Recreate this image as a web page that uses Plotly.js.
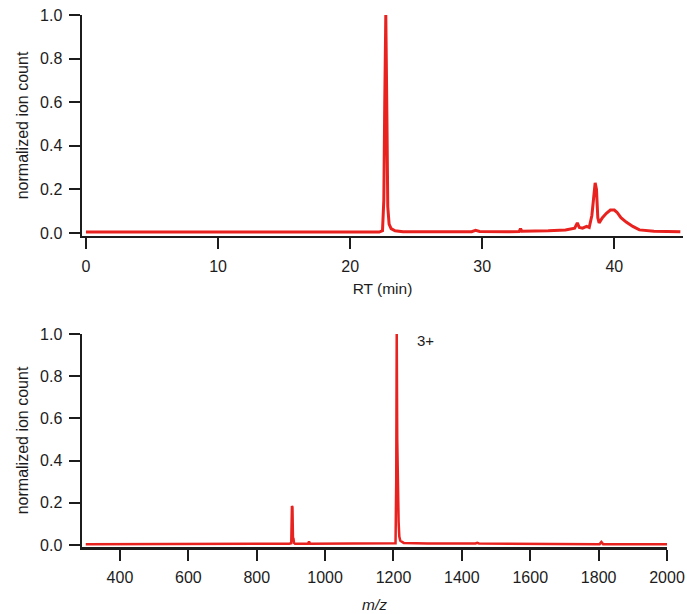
<!DOCTYPE html>
<html>
<head>
<meta charset="utf-8">
<script src="https://cdn.plot.ly/plotly-3.0.1.min.js"></script>
<style>html,body{margin:0;padding:0;background:#fff}#chart{width:687px;height:614px}</style>
</head>
<body>
<div id="chart"></div>
<script>
// Top panel: chromatogram (retention time, min) vs normalized ion count
const rtMin = [0, 5, 10, 10.8, 11.5, 13, 15, 20, 22.2, 22.45, 22.55, 22.62, 22.7, 22.78, 22.85, 22.95, 23.1, 23.4, 24, 25, 27, 27.5, 28, 29.2, 29.5, 29.8, 32, 32.8, 32.9, 33.0, 35, 36.3, 37.0, 37.2, 37.35, 37.6, 37.9, 38.1, 38.3, 38.42, 38.55, 38.65, 38.75, 38.85, 39.1, 39.4, 39.7, 40.0, 40.2, 40.5, 40.9, 41.4, 41.9, 43.0, 45];
const rtCount = [0.004, 0.004, 0.004, 0.007, 0.006, 0.005, 0.004, 0.004, 0.004, 0.01, 0.15, 0.6, 1.0, 0.55, 0.12, 0.04, 0.02, 0.01, 0.006, 0.005, 0.005, 0.008, 0.006, 0.006, 0.012, 0.007, 0.006, 0.007, 0.02, 0.008, 0.01, 0.014, 0.022, 0.046, 0.025, 0.022, 0.03, 0.025, 0.08, 0.14, 0.23, 0.2, 0.07, 0.046, 0.07, 0.09, 0.105, 0.105, 0.095, 0.07, 0.05, 0.03, 0.014, 0.008, 0.006];

// Bottom panel: mass spectrum (m/z) vs normalized ion count
const mz = [300, 410, 412, 600, 800, 895, 901, 903, 904.5, 906, 907.5, 909, 912, 950, 953, 956, 1000, 1200, 1206, 1208, 1209.5, 1211, 1213, 1215, 1217, 1220, 1230, 1300, 1440, 1445, 1450, 1600, 1752, 1755, 1803, 1808, 1813, 1900, 2000];
const mzCount = [0.003, 0.003, 0.006, 0.006, 0.006, 0.006, 0.008, 0.185, 0.18, 0.035, 0.03, 0.01, 0.006, 0.006, 0.016, 0.006, 0.006, 0.006, 0.008, 0.3, 1.0, 0.5, 0.12, 0.11, 0.04, 0.02, 0.01, 0.007, 0.007, 0.01, 0.007, 0.006, 0.006, 0.003, 0.004, 0.014, 0.004, 0.003, 0.003];

const yTicks = [0, 0.2, 0.4, 0.6, 0.8, 1.0];
const rtTicks = [0, 10, 20, 30, 40];
const mzTicks = [400, 600, 800, 1000, 1200, 1400, 1600, 1800, 2000];
const chargeLabel = {text: "3+", x: 1262, y: 0.97};

const red = "#e8221f";
const font = "Liberation Sans, Arial, Helvetica, sans-serif";
const ink = "#1c1c1c";

const traces = [
  {x: rtMin, y: rtCount, type: "scatter", mode: "lines", line: {color: red, width: 3}, xaxis: "x", yaxis: "y", hoverinfo: "skip"},
  {x: mz, y: mzCount, type: "scatter", mode: "lines", line: {color: red, width: 2.5}, xaxis: "x2", yaxis: "y2", hoverinfo: "skip"}
];

const axisCommon = {
  showline: true, linecolor: ink, linewidth: 2.5, mirror: false,
  ticks: "outside", ticklen: 11, tickwidth: 2, tickcolor: ink,
  showgrid: false, zeroline: false,
  tickfont: {family: font, size: 16, color: ink}
};

const layout = {
  width: 687, height: 614,
  margin: {l: 82, r: 4, t: 15, b: 67},
  paper_bgcolor: "#ffffff", plot_bgcolor: "#ffffff",
  showlegend: false,
  font: {family: font, color: ink},
  xaxis: Object.assign({}, axisCommon, {
    domain: [0, 1], anchor: "y", range: [-0.3, 45.2],
    tickvals: rtTicks, ticklabelstandoff: 3,
    title: {text: "RT (min)", font: {family: font, size: 15.5, color: ink}, standoff: 10}
  }),
  yaxis: Object.assign({}, axisCommon, {
    domain: [0.5846, 1], anchor: "x", range: [-0.014, 1.0],
    tickvals: yTicks, tickformat: ".1f", ticklabelstandoff: 3,
    title: {text: "normalized ion count", font: {family: font, size: 16, color: ink}, standoff: 8}
  }),
  xaxis2: Object.assign({}, axisCommon, {
    domain: [0, 0.9734], anchor: "y2", range: [289, 2000],
    tickvals: mzTicks, ticklabelstandoff: 3,
    title: {text: "<i>m/z</i>", font: {family: font, size: 15.5, color: ink}, standoff: 15}
  }),
  yaxis2: Object.assign({}, axisCommon, {
    domain: [0, 0.4004], anchor: "x2", range: [-0.0095, 1.0],
    tickvals: yTicks, tickformat: ".1f", ticklabelstandoff: 3,
    title: {text: "normalized ion count", font: {family: font, size: 16, color: ink}, standoff: 8}
  }),
  annotations: [{
    text: chargeLabel.text, x: chargeLabel.x, y: chargeLabel.y, xref: "x2", yref: "y2",
    xanchor: "left", yanchor: "middle", showarrow: false,
    font: {family: font, size: 15, color: ink}
  }]
};

Plotly.newPlot("chart", traces, layout, {displayModeBar: false, staticPlot: true});
</script>
</body>
</html>
